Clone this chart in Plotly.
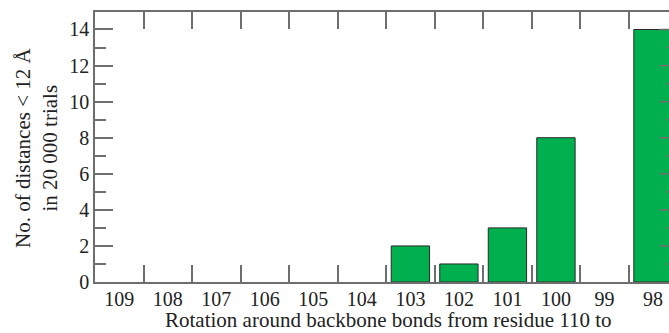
import plotly.graph_objects as go

categories = ["109", "108", "107", "106", "105", "104", "103", "102", "101", "100", "99", "98"]
counts = [0, 0, 0, 0, 0, 0, 2, 1, 3, 8, 0, 14]

FONT = "Liberation Serif"
AXIS_COLOR = "#6e6e6e"

fig = go.Figure()
fig.add_trace(go.Bar(
    x=categories, y=counts,
    marker=dict(color="#00b04f",
                line=dict(color="#2a2a2a", width=[1 if c > 0 else 0 for c in counts])),
))

# right-hand mirror ticks (axis lies just beyond the cropped edge)
shapes = []
for v in range(1, 15):
    major = v % 2 == 0
    shapes.append(dict(type="line", xref="x", yref="y",
                       x0=11.5 - (18 if major else 11) / 48.5, x1=11.5, y0=v, y1=v,
                       line=dict(color=AXIS_COLOR, width=1.5), layer="above"))

fig.update_layout(
    width=669, height=333,
    margin=dict(l=95, r=0, t=12, b=51),
    paper_bgcolor="white", plot_bgcolor="white",
    showlegend=False,
    bargap=0.21,
    font=dict(family=FONT, size=20, color="#222"),
    shapes=shapes,
    xaxis=dict(
        type="category", range=[-0.5, 11.33],
        tickson="boundaries", ticks="inside", ticklen=17, tickwidth=1.5, tickcolor=AXIS_COLOR,
        showline=True, linecolor=AXIS_COLOR, linewidth=1.5, mirror="ticks",
        showgrid=False, zeroline=False, ticklabelstandoff=-2,
        tickfont=dict(family=FONT, size=20, color="#222"),
    ),
    yaxis=dict(
        range=[0, 14.97], tickvals=[0, 2, 4, 6, 8, 10, 12, 14],
        ticks="inside", ticklen=18, tickwidth=1.5, tickcolor=AXIS_COLOR,
        minor=dict(ticks="inside", ticklen=11, tickwidth=1.5, tickcolor=AXIS_COLOR, dtick=1, tick0=0, showgrid=False),
        showline=True, linecolor=AXIS_COLOR, linewidth=1.5, mirror=False,
        showgrid=False, zeroline=False,
        tickfont=dict(family=FONT, size=20, color="#222"),
    ),
    annotations=[
        dict(text="No. of distances &lt; 12 Å<br>in 20 000 trials", xref="paper", yref="paper",
             x=-(95 - 36) / 574, y=(282 - 148) / 270, xanchor="center", yanchor="middle", textangle=-90,
             showarrow=False, font=dict(family=FONT, size=21, color="#222")),
        dict(text="Rotation around backbone bonds from residue 110 to", xref="paper", yref="paper",
             x=(388 - 95) / 574, y=-(333 - 282) / 270, xanchor="center", yanchor="bottom",
             borderpad=0, showarrow=False, font=dict(family=FONT, size=21, color="#222")),
    ],
)

fig.write_html("out.html")
